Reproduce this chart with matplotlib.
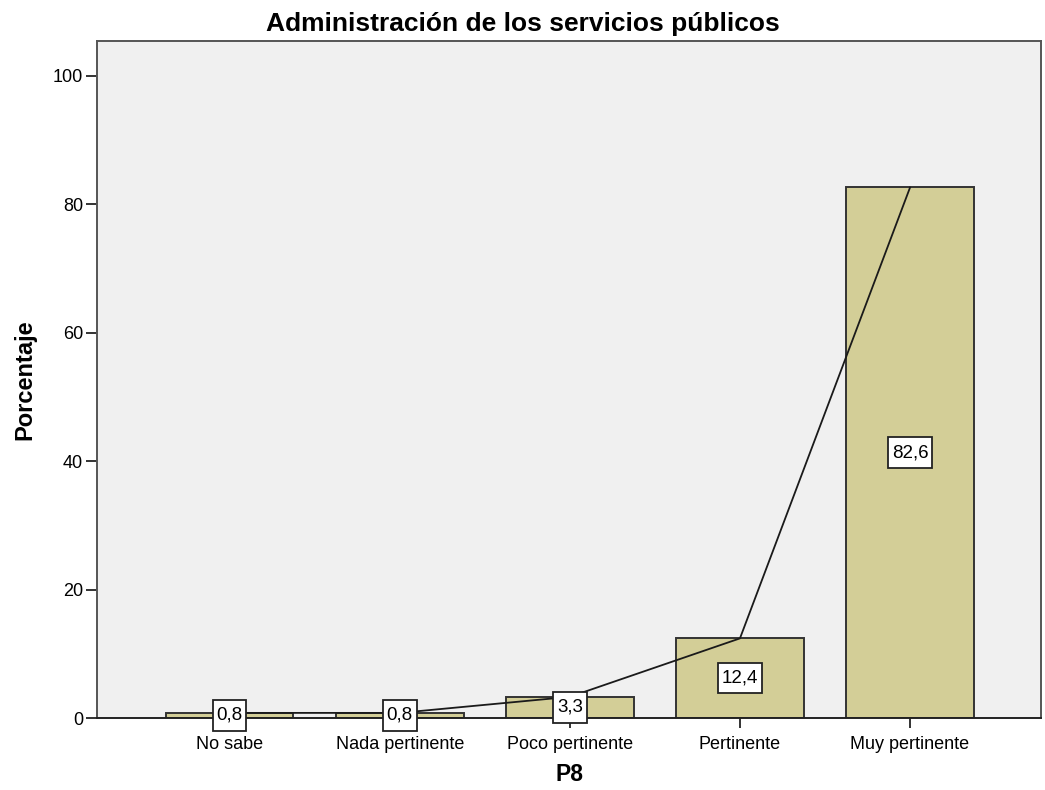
import matplotlib
matplotlib.use("Agg")
import matplotlib.pyplot as plt
from matplotlib.path import Path

categories = ["No sabe", "Nada pertinente", "Poco pertinente", "Pertinente", "Muy pertinente"]
values = [0.8, 0.8, 3.3, 12.4, 82.6]
yticks = [0, 20, 40, 60, 80, 100]

plt.rcParams['font.family'] = ['Liberation Sans', 'DejaVu Sans']


def label_box(x0, y0, width, height, mutation_size):
    px = 0.2 * mutation_size
    py = 0.36 * mutation_size
    x0, y0 = x0 - px, y0 - py
    x1, y1 = x0 + width + 2 * px, y0 + height + 2 * py
    return Path([(x0, y0), (x1, y0), (x1, y1), (x0, y1), (x0, y0)], closed=True)


fig = plt.figure(figsize=(10.45, 7.9), dpi=100)
ax = fig.add_axes([0.0928, 0.0911, 0.9034, 0.857])
ax.set_facecolor('#F0F0F0')

x = list(range(len(categories)))
ax.bar(x, values, width=0.75, color='#D3CE97', edgecolor='#333333', linewidth=1.4, zorder=2)
ax.plot(x, values, color='#1a1a1a', linewidth=1.3, zorder=3)

for xi, v in zip(x, values):
    label = f"{v:.1f}".replace('.', ',')
    ax.text(xi, v / 2, label, ha='center', va='center', fontsize=13.5,
            zorder=4, clip_on=False,
            bbox=dict(boxstyle=label_box, facecolor='white', edgecolor='#222222', linewidth=1.3))

ax.set_xlim(-0.78, 4.77)
ax.set_ylim(0, 105.4)
ax.set_yticks(yticks)
ax.set_xticks(x)
ax.set_xticklabels(categories, fontsize=13)
ax.tick_params(axis='y', labelsize=13, length=8, width=1.4, color='#333333', pad=2)
ax.tick_params(axis='x', length=7, width=1.4, color='#333333', pad=6)

for s in ['left', 'top', 'right']:
    ax.spines[s].set_color('#555555')
    ax.spines[s].set_linewidth(1.4)
ax.spines['bottom'].set_color('#222222')
ax.spines['bottom'].set_linewidth(1.4)

fig.text(0.5, 1 - 31 / 790, "Administración de los servicios públicos", fontsize=19,
         fontweight='bold', ha='center', va='baseline')
ax.set_ylabel("Porcentaje", fontsize=17, fontweight='bold', labelpad=12)
ax.set_xlabel("P8", fontsize=16.5, fontweight='bold', labelpad=7)

fig.savefig("out.png", dpi=100)
